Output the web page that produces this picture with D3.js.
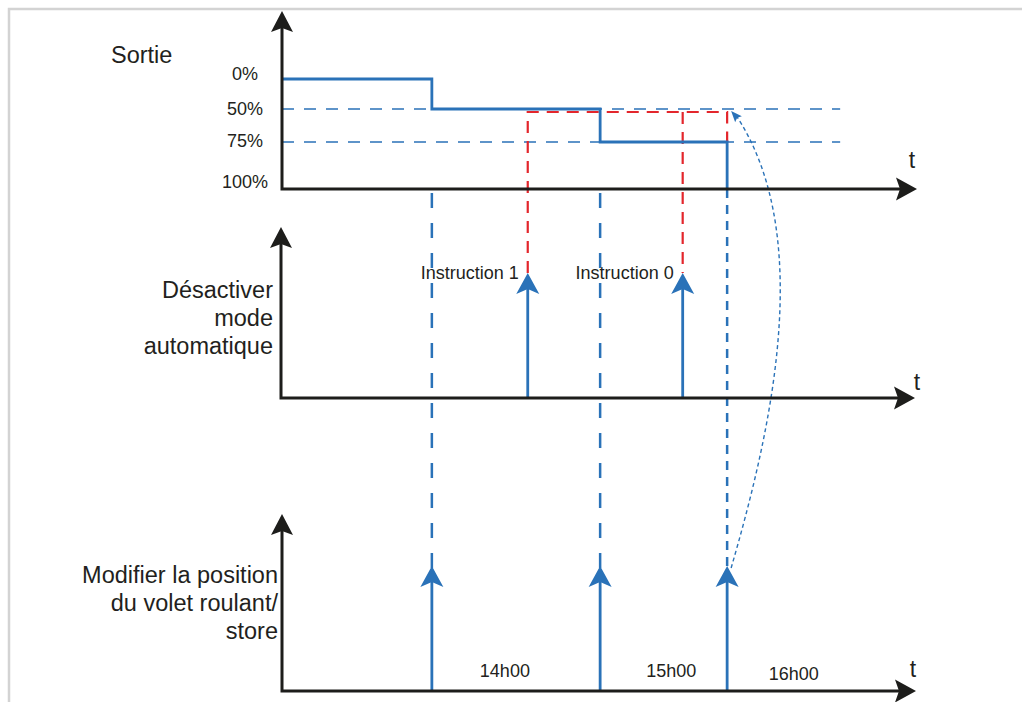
<!DOCTYPE html>
<html>
<head>
<meta charset="utf-8">
<script src="https://cdn.jsdelivr.net/npm/d3@7"></script>
<style>
  html, body { margin: 0; padding: 0; background: #fff; }
  svg { display: block; }
  text { font-family: "Liberation Sans", Arial, sans-serif; fill: #231f20; }
</style>
</head>
<body>
<svg id="chart" width="1022" height="702"></svg>
<script>
// ---------- data ----------
const levelValues = [0, 50, 75, 100];
const levelLabels = ["0%", "50%", "75%", "100%"];
const referenceLevels = [50, 75];
const referenceEnd = 87.9;
const outputTimes = [0, 23.6, 50.1, 70.1];
const outputLevels = [0, 50, 75, 100];
const instructionTimes = [38.7, 63.1];
const instructionLabels = ["Instruction 1", "Instruction 0"];
const commandTimes = [23.6, 50.1, 70.1];
const timeLabelTimes = [35.1, 61.3, 80.6];
const timeLabels = ["14h00", "15h00", "16h00"];
const panelTitles = [["Sortie"], ["Désactiver", "mode", "automatique"], ["Modifier la position", "du volet roulant/", "store"]];

// ---------- layout ----------
const svg = d3.select("#chart");
const BLUE = "#2a72b8", RED = "#e3262c", BLACK = "#1d1d1b";
const x = d3.scaleLinear().domain([0, 100]).range([282, 917]);
const yOut = d3.scaleLinear().domain(levelValues).range([79, 109, 142, 189]);

const panels = [
  { axisX: 282, baseY: 189, topY: 11, right: 917 },
  { axisX: 281, baseY: 398, topY: 227, right: 915 },
  { axisX: 282, baseY: 691, topY: 514, right: 916 }
];

// frame
svg.append("path").attr("d", "M9,702 L9,9 L1022,9")
  .attr("fill", "none").attr("stroke", "#d3d3d3").attr("stroke-width", 2.5);

function arrowHead(g, tx, ty, angle, color, len, wid, notch) {
  g.append("path")
    .attr("d", `M0,0 L${wid/2},${len} L0,${len-notch} L${-wid/2},${len} Z`)
    .attr("transform", `translate(${tx},${ty}) rotate(${angle})`)
    .attr("fill", color);
}

const g = svg.append("g");

// ---------- reference dashed levels (panel 1) ----------
g.selectAll(".ref").data(referenceLevels).enter().append("line")
  .attr("x1", panels[0].axisX).attr("x2", x(referenceEnd))
  .attr("y1", d => yOut(d)).attr("y2", d => yOut(d))
  .attr("stroke", BLUE).attr("stroke-width", 1.3).attr("stroke-dasharray", "12,10");

// ---------- blue dashed verticals from output to commands ----------
const cmdTipY = panels[2].baseY - 125;
commandTimes.forEach((t, i) => {
  const last = i === commandTimes.length - 1;
  g.append("line")
    .attr("x1", x(t)).attr("x2", x(t))
    .attr("y1", last ? panels[0].baseY : panels[0].baseY + 4)
    .attr("y2", cmdTipY + 4)
    .attr("stroke", BLUE).attr("stroke-width", 2.5)
    .attr("stroke-dasharray", last ? "9,7" : "15,15");
});

// ---------- red dashed instruction links ----------
const instTipY = panels[1].baseY - 125;
const redY = yOut(50) + 3;
g.append("path")
  .attr("d", `M${x(instructionTimes[0])},${instTipY} L${x(instructionTimes[0])},${redY} L${x(commandTimes[2])},${redY} L${x(commandTimes[2])},${yOut(75)}`)
  .attr("fill", "none").attr("stroke", RED).attr("stroke-width", 2.2).attr("stroke-dasharray", "12,8");
g.append("line")
  .attr("x1", x(instructionTimes[1])).attr("x2", x(instructionTimes[1]))
  .attr("y1", redY).attr("y2", instTipY)
  .attr("stroke", RED).attr("stroke-width", 2.2).attr("stroke-dasharray", "12,8");

// ---------- output signal ----------
const outData = outputTimes.map((t, i) => ({ t, v: outputLevels[i] }));
const line = d3.line().x(d => x(d.t)).y(d => yOut(d.v)).curve(d3.curveStepAfter);
g.append("path").datum(outData).attr("d", line)
  .attr("fill", "none").attr("stroke", BLUE).attr("stroke-width", 2.8);

// ---------- instruction arrows (panel 2) ----------
instructionTimes.forEach((t, i) => {
  g.append("line").attr("x1", x(t)).attr("x2", x(t))
    .attr("y1", panels[1].baseY).attr("y2", instTipY + 10)
    .attr("stroke", BLUE).attr("stroke-width", 2.8);
  arrowHead(g, x(t), instTipY, 0, BLUE, 21, 23, 5);
  g.append("text").attr("x", x(t) - 9).attr("y", instTipY + 6)
    .attr("text-anchor", "end").attr("font-size", 18).text(instructionLabels[i]);
});

// ---------- command arrows (panel 3) ----------
commandTimes.forEach(t => {
  g.append("line").attr("x1", x(t)).attr("x2", x(t))
    .attr("y1", panels[2].baseY).attr("y2", cmdTipY + 10)
    .attr("stroke", BLUE).attr("stroke-width", 2.8);
  arrowHead(g, x(t), cmdTipY, 0, BLUE, 21, 23, 5);
});

// ---------- curved dotted feedback ----------
const cx0 = x(commandTimes[2]) + 4, cy0 = cmdTipY + 2;
const cx1 = x(commandTimes[2]) + 6, cy1 = yOut(50) + 3;
const p = d3.path();
p.moveTo(cx0, cy0);
p.bezierCurveTo(cx0 + 37, 440, cx0 + 86, 240, cx1 + 4, cy1 + 5);
g.append("path").attr("d", p.toString())
  .attr("fill", "none").attr("stroke", BLUE).attr("stroke-width", 1.4).attr("stroke-dasharray", "4,3");
arrowHead(g, cx1 - 2, cy1 - 1, -42, BLUE, 11, 9, 2);

// ---------- axes ----------
panels.forEach(pn => {
  g.append("path").attr("d", `M${pn.axisX},${pn.topY + 15} L${pn.axisX},${pn.baseY} L${pn.right - 15},${pn.baseY}`)
    .attr("fill", "none").attr("stroke", BLACK).attr("stroke-width", 3);
  arrowHead(g, pn.axisX, pn.topY, 0, BLACK, 21, 22, 4);
  arrowHead(g, pn.right, pn.baseY, 90, BLACK, 21, 23, 4);
});

// t labels
[[912, 168], [917, 390], [913, 677]].forEach(([tx, ty]) => {
  g.append("text").attr("x", tx).attr("y", ty).attr("text-anchor", "middle")
    .attr("font-size", 23).text("t");
});

// ---------- level labels ----------
const labelDy = [1, 6, 5, -1];
levelValues.forEach((v, i) => {
  g.append("text").attr("x", 245).attr("y", yOut(v) + labelDy[i])
    .attr("text-anchor", "middle").attr("font-size", 18).text(levelLabels[i]);
});

// ---------- panel titles ----------
g.append("text").attr("x", 111).attr("y", 63).attr("font-size", 23.5).text(panelTitles[0][0]);
panelTitles[1].forEach((s, i) => {
  g.append("text").attr("x", 273).attr("y", 298 + i * 28).attr("text-anchor", "end")
    .attr("font-size", 23.5).text(s);
});
panelTitles[2].forEach((s, i) => {
  g.append("text").attr("x", 278).attr("y", 583 + i * 28).attr("text-anchor", "end")
    .attr("font-size", 23.5).text(s);
});

// ---------- time labels ----------
const timeDy = [677, 677, 680];
timeLabelTimes.forEach((t, i) => {
  g.append("text").attr("x", x(t)).attr("y", timeDy[i]).attr("text-anchor", "middle")
    .attr("font-size", 18).text(timeLabels[i]);
});
</script>
</body>
</html>
